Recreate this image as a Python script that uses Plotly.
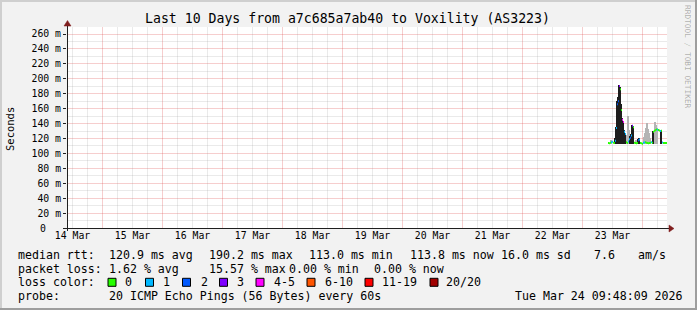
import plotly.graph_objects as go
from datetime import datetime, timedelta

# ---------------- data ----------------
title_text = "Last 10 Days from a7c685a7ab40 to Voxility (AS3223)"
range_start = "2026-03-14 09:48:09"
range_end = "2026-03-24 09:48:09"

day_labels = ["14 Mar", "15 Mar", "16 Mar", "17 Mar", "18 Mar",
              "19 Mar", "20 Mar", "21 Mar", "22 Mar", "23 Mar"]
day_label_times = ["2026-03-14 12:00", "2026-03-15 12:00", "2026-03-16 12:00",
                   "2026-03-17 12:00", "2026-03-18 12:00", "2026-03-19 12:00",
                   "2026-03-20 12:00", "2026-03-21 12:00", "2026-03-22 12:00",
                   "2026-03-23 12:00"]

y_tick_values = [0, 20, 40, 60, 80, 100, 120, 140, 160, 180, 200, 220, 240, 260]
y_tick_labels = ["", "20 m", "40 m", "60 m", "80 m", "100 m", "120 m", "140 m",
                 "160 m", "180 m", "200 m", "220 m", "240 m", "260 m"]
y_zero_label = "0"

first_sample = "2026-03-23 10:12"
sample_step_min = 24

median_ms = [114.0, 113.6, 114.1, 114.8, 115.5, 114.2, 113.9, 117.0, 134.0, 166.0,
             170.0, 190.2, 186.0, 158.0, 145.0, 142.0, 129.0, 126.0, 115.0, 114.0,
             116.0, 119.0, 121.0, 124.0, 137.0, 135.0, 114.2, 113.8, 113.5, 114.0,
             117.5, 118.5, 114.0, 113.7, 113.0, 114.3, 114.5, 115.0, 114.2, 113.9,
             113.6, 114.0, 114.2, 115.0, 114.1, 129.0, 130.5, 131.0, 132.0, 131.8,
             131.2, 130.8, 130.0, 130.5, 114.5, 113.8, 114.0, 113.8, 113.8]

loss_level = [0, 0, 0, 1, 1, 0, 0, 1, 1, 2,
              2, 3, 0, 0, 4, 4, 1, 1, 0, 0,
              1, 1, 2, 1, 3, 0, 0, 0, 0, 0,
              2, 1, 0, 0, 0, 1, 1, 0, 0, 0,
              0, 0, 0, 1, 0, 0, 0, 0, 0, 1,
              0, 0, 1, 0, 1, 0, 0, 0, 0]

smoke_min_ms = [112.6, 112.4, 112.8, 112.5, 112.9, 112.7, 112.3, 112.6, 112.5, 112.8,
                112.4, 112.6, 112.7, 112.5, 112.9, 112.6, 112.4, 112.7, 112.5, 112.8,
                112.6, 112.3, 112.7, 112.5, 112.6, 112.8, 112.4, 112.5, 112.7, 112.6,
                112.4, 112.8, 112.5, 112.6, 112.3, 112.7, 112.5, 112.6, 112.8, 112.4,
                112.7, 112.5, 112.6, 112.4, 112.8, 112.5, 112.7, 112.6, 112.5, 112.8,
                112.4, 112.6, 112.7, 112.5, 112.6, 112.8, 112.4, 112.5, 112.6]

dark_smoke_top = [None, None, None, None, None, None, None, 121, 136, 170,
                  176, 191, 189, 166, 147, 144, 131, 128, None, None,
                  None, None, 123, 126, 138, 137, None, None, None, None,
                  119, 120, None, None, None, None, None, None, None, None,
                  None, None, None, None, None, 130, None, None, None, None,
                  None, None, None, 131, None, None, None, None, None]

light_smoke_top = [None, None, None, 118, None, None, None, None, None, None,
                   None, None, None, None, None, None, None, None, None, 125,
                   150, 131, None, None, None, None, None, None, 118, None,
                   None, None, None, None, None, None, 122, 128, 134, 141,
                   133, 127, 121, None, None, None, None, 142, 138, 134,
                   None, None, None, None, None, None, None, None, None]

loss_names = ["0", "1", "2", "3", "4-5", "6-10", "11-19", "20/20"]
loss_colors = ["#26ff00", "#00b8ff", "#0059ff", "#7e00ff", "#ff00ff",
               "#ff5500", "#ff0000", "#a10000"]

legend_rows = [
    [("median rtt:", 16), ("120.9 ms avg", 107), ("190.2 ms max", 207), ("113.0 ms min", 307),
     ("113.8 ms now", 408), ("16.0 ms sd", 499), ("7.6", 592), ("am/s", 636)],
    [("packet loss:", 16), ("1.62 % avg", 107), ("15.57 % max", 207), ("0.00 % min", 287),
     ("0.00 % now", 372)],
    [("loss color:", 16)],
    [("probe:", 16), ("20 ICMP Echo Pings (56 Bytes) every 60s", 107),
     ("Tue Mar 24 09:48:09 2026", 513)],
]
legend_row_y = [255, 268.5, 282.3, 296]
loss_box_x = [108, 145.5, 182.5, 219.5, 256, 307, 365, 430]
loss_label_x = [123, 160.5, 198.5, 235, 271.5, 323, 380, 444]

# ---------------- geometry helpers ----------------
W, H = 697, 310
L, R, T, B = 67, 667, 27, 228


def px(x):
    return (x - L) / (R - L)


def py(y):
    return (B - y) / (B - T)


MONO = "DejaVu Sans Mono"

t0 = datetime.strptime(first_sample, "%Y-%m-%d %H:%M")
step = timedelta(minutes=sample_step_min)
times = [t0 + i * step for i in range(len(median_ms))]
bar_w = sample_step_min * 60 * 1000

grid_day0 = datetime(2026, 3, 14)
minor_grid_times = [grid_day0 + timedelta(hours=6 * k) for k in range(0, 44) if k % 4 != 0]
minor_y_values = [10, 30, 50, 70, 90, 110, 130, 150, 170, 190, 210, 230, 250]

fig = go.Figure()


def smoke_trace(tops, color):
    xs = [t for t, v in zip(times, tops) if v is not None]
    bs = [m for m, v in zip(smoke_min_ms, tops) if v is not None]
    hs = [v - m for m, v in zip(smoke_min_ms, tops) if v is not None]
    return go.Bar(x=xs, y=hs, base=bs, width=bar_w, offset=0, marker_color=color,
                  marker_line_width=0)


fig.add_trace(smoke_trace(light_smoke_top, "#b4b4b4"))
fig.add_trace(smoke_trace(dark_smoke_top, "#1e1e1e"))

for lvl in range(len(loss_colors)):
    sx, sy = [], []
    for t, m, l in zip(times, median_ms, loss_level):
        if l == lvl:
            sx += [t, t + step, None]
            sy += [m, m, None]
    if sx:
        fig.add_trace(go.Scatter(x=sx, y=sy, mode="lines",
                                 line=dict(color=loss_colors[lvl], width=2)))

fig.add_trace(go.Scatter(x=[range_start, range_end], y=[None, None], xaxis="x2",
                         mode="lines", hoverinfo="skip"))
fig.add_trace(go.Scatter(x=[range_start, range_end], y=[None, None], xaxis="x3",
                         mode="lines", hoverinfo="skip"))
fig.add_trace(go.Scatter(x=[range_start, range_end], y=[None, None], yaxis="y2",
                         mode="lines", hoverinfo="skip"))

annotations = []
shapes = []

annotations.append(dict(text=title_text, x=px(347.5), y=py(19), xref="paper", yref="paper",
                        showarrow=False, xanchor="center", yanchor="middle",
                        font=dict(family=MONO, size=13.2, color="#000")))
annotations.append(dict(text="Seconds", x=px(10), y=py(129), xref="paper", yref="paper",
                        showarrow=False, textangle=-90, xanchor="center", yanchor="middle",
                        font=dict(family=MONO, size=10.5, color="#000")))
annotations.append(dict(text="RRDTOOL / TOBI OETIKER", x=px(688), y=py(57), xref="paper",
                        yref="paper", showarrow=False, textangle=90, xanchor="center",
                        yanchor="middle", font=dict(family=MONO, size=7.8,
                                                    color="rgba(0,0,0,0.3)")))
annotations.append(dict(text=y_zero_label, x=px(48), y=0, xref="paper", yref="y",
                        showarrow=False, xanchor="right", yanchor="middle",
                        font=dict(family=MONO, size=9.8, color="#000")))

for row, yy in zip(legend_rows, legend_row_y):
    for txt, xx in row:
        annotations.append(dict(text=txt.replace(" ", "\u00a0"), x=px(xx), y=py(yy),
                                xref="paper", yref="paper", showarrow=False,
                                xanchor="left", yanchor="middle",
                                font=dict(family=MONO, size=11.6, color="#000")))

for name, col, bx, lx_ in zip(loss_names, loss_colors, loss_box_x, loss_label_x):
    shapes.append(dict(type="rect", xref="paper", yref="paper",
                       x0=px(bx), x1=px(bx + 8), y0=py(278.3 + 8), y1=py(278.3),
                       fillcolor=col, line=dict(color="#000", width=1)))
    annotations.append(dict(text=name, x=px(lx_), y=py(282.3), xref="paper", yref="paper",
                            showarrow=False, xanchor="left", yanchor="middle",
                            font=dict(family=MONO, size=11.6, color="#000")))

shapes += [
    dict(type="rect", xref="paper", yref="paper", x0=px(0), x1=px(W), y0=py(2), y1=py(0),
         fillcolor="#cfcfcf", line_width=0, layer="below"),
    dict(type="rect", xref="paper", yref="paper", x0=px(0), x1=px(2), y0=py(H), y1=py(0),
         fillcolor="#cfcfcf", line_width=0, layer="below"),
    dict(type="rect", xref="paper", yref="paper", x0=px(0), x1=px(W), y0=py(H), y1=py(H - 2),
         fillcolor="#9e9e9e", line_width=0, layer="below"),
    dict(type="rect", xref="paper", yref="paper", x0=px(W - 2), x1=px(W), y0=py(H), y1=py(0),
         fillcolor="#9e9e9e", line_width=0, layer="below"),
]

shapes += [
    dict(type="line", xref="paper", yref="paper", x0=px(63), x1=px(670), y0=py(228.5),
         y1=py(228.5), line=dict(color="#1f1f1f", width=1)),
    dict(type="line", xref="paper", yref="paper", x0=px(67.5), x1=px(67.5), y0=py(231),
         y1=py(24), line=dict(color="#1f1f1f", width=1)),
    dict(type="path", xref="paper", yref="paper",
         path=f"M {px(669)} {py(225)} L {px(674)} {py(228.5)} L {px(669)} {py(232)} Z",
         fillcolor="#801f1f", line=dict(color="#801f1f", width=0.5)),
    dict(type="path", xref="paper", yref="paper",
         path=f"M {px(64)} {py(26)} L {px(67.5)} {py(20.5)} L {px(71)} {py(26)} Z",
         fillcolor="#801f1f", line=dict(color="#801f1f", width=0.5)),
]

# dotted rrdtool grid rendered as faint solid lines of the same average tone
grid_minor = "rgba(150,150,150,0.2)"
grid_major = "rgba(222,79,79,0.28)"

fig.update_layout(
    width=W, height=H,
    margin=dict(l=L, r=W - R, t=T, b=H - B, pad=0),
    paper_bgcolor="#f2f2f2", plot_bgcolor="#ffffff",
    showlegend=False, bargap=0, barmode="overlay",
    annotations=annotations, shapes=shapes,
    xaxis=dict(type="date", range=[range_start, range_end], tickmode="array",
               tickvals=day_label_times, ticktext=day_labels, ticks="",
               showgrid=False, zeroline=False, showline=False,
               tickfont=dict(family=MONO, size=9.8, color="#000")),
    xaxis2=dict(type="date", overlaying="x", range=[range_start, range_end],
                showticklabels=False, ticks="", tickmode="array",
                tickvals=minor_grid_times,
                showgrid=True, gridcolor=grid_minor, gridwidth=1,
                zeroline=False, showline=False),
    xaxis3=dict(type="date", overlaying="x", range=[range_start, range_end],
                showticklabels=False, ticks="", tickmode="linear",
                tick0="2026-03-14 00:00", dtick=86400000,
                showgrid=True, gridcolor=grid_major, gridwidth=1,
                zeroline=False, showline=False),
    yaxis=dict(range=[0, 269.4], tickmode="array", tickvals=y_tick_values,
               ticktext=y_tick_labels, ticks="outside", ticklen=3, tickcolor="#1f1f1f",
               showgrid=True, gridcolor=grid_major, gridwidth=1,
               zeroline=False, showline=False,
               tickfont=dict(family=MONO, size=9.8, color="#000")),
    yaxis2=dict(overlaying="y", range=[0, 269.4], tickmode="array",
                tickvals=minor_y_values, showticklabels=False, ticks="",
                showgrid=True, gridcolor=grid_minor, gridwidth=1,
                zeroline=False, showline=False),
)

fig.write_html("out.html")
